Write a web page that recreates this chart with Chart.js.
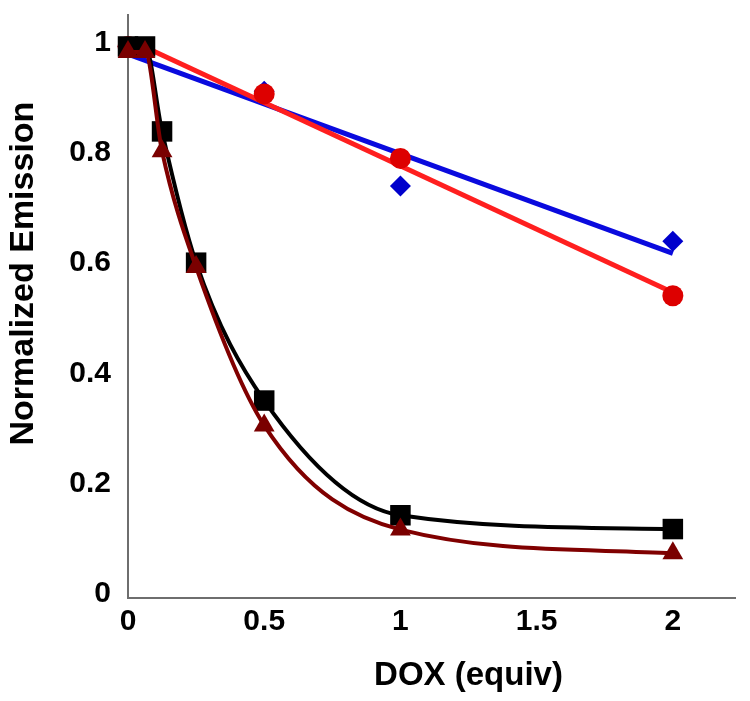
<!DOCTYPE html>
<html>
<head>
<meta charset="utf-8">
<script src="https://cdn.jsdelivr.net/npm/chart.js@4.4.1/dist/chart.umd.min.js"></script>
<style>
  html, body { margin: 0; padding: 0; background: #ffffff; }
  #wrap { width: 750px; height: 701px; }
</style>
</head>
<body>
<div id="wrap"><canvas id="c" width="750" height="701"></canvas></div>
<script>
// ---- data ----
const xDoses = [0, 0.0625, 0.125, 0.25, 0.5, 1, 2];
const blackVals = [1.0, 1.0, 0.846, 0.608, 0.358, 0.15, 0.125];
const brownVals = [0.99, 0.99, 0.81, 0.60, 0.313, 0.124, 0.081];

const xLinear = [0, 0.5, 1, 2];
const blueVals = [1.0, 0.919, 0.747, 0.647];
const redVals = [1.0, 0.914, 0.797, 0.548];

const fitX = [0, 2];
const blueFit = [0.986, 0.625];
const redFit = [1.013, 0.554];

const xTicks = [0, 0.5, 1, 1.5, 2];
const yTicks = [0, 0.2, 0.4, 0.6, 0.8, 1];

const xTitle = 'DOX (equiv)';
const yTitle = 'Normalized Emission';

function pts(xs, ys) { return xs.map((x, i) => ({ x: x, y: ys[i] })); }

const FONT = '"Liberation Sans", Arial, Helvetica, sans-serif';

const axisTitles = {
  id: 'axisTitles',
  afterDraw(chart) {
    const { ctx, chartArea } = chart;
    ctx.save();
    ctx.fillStyle = '#000000';
    ctx.font = 'bold 33px ' + FONT;
    ctx.textAlign = 'center';
    ctx.textBaseline = 'alphabetic';
    const cx = chartArea.left + (chartArea.right - chartArea.left) * 0.5605;
    ctx.fillText(xTitle, cx, chartArea.bottom + 87);
    ctx.font = 'bold 34px ' + FONT;
    const cy = chartArea.top + (chartArea.bottom - chartArea.top) * 0.444;
    ctx.translate(33, cy);
    ctx.rotate(-Math.PI / 2);
    ctx.fillText(yTitle, 0, 0);
    ctx.restore();
  }
};

new Chart(document.getElementById('c'), {
  type: 'scatter',
  data: {
    datasets: [
      { // blue linear fit
        type: 'line', data: pts(fitX, blueFit), borderColor: '#0a0ade', borderWidth: 5,
        pointRadius: 0, fill: false, order: 6, tension: 0
      },
      { // blue diamonds
        data: pts(xLinear, blueVals), pointStyle: 'rectRot', pointRadius: 10.5,
        backgroundColor: '#0000cc', borderColor: '#0000cc', borderWidth: 0, showLine: false, order: 5
      },
      { // red linear fit
        type: 'line', data: pts(fitX, redFit), borderColor: '#ff1f1f', borderWidth: 5,
        pointRadius: 0, fill: false, order: 4, tension: 0
      },
      { // red circles
        data: pts(xLinear, redVals), pointStyle: 'circle', pointRadius: 10.5,
        backgroundColor: '#dd0000', borderColor: '#dd0000', borderWidth: 0, showLine: false, order: 3
      },
      { // black squares + curve
        type: 'line', data: pts(xDoses, blackVals), borderColor: '#000000', borderWidth: 4,
        cubicInterpolationMode: 'monotone', fill: false,
        pointStyle: 'rect', pointRadius: 14.5, pointBackgroundColor: '#000000',
        pointBorderColor: '#000000', pointBorderWidth: 0, order: 2
      },
      { // dark red triangles + curve
        type: 'line', data: pts(xDoses, brownVals), borderColor: '#800000', borderWidth: 4,
        cubicInterpolationMode: 'monotone', fill: false,
        pointStyle: 'triangle', pointRadius: 12, pointBackgroundColor: '#7a0000',
        pointBorderColor: '#7a0000', pointBorderWidth: 0, order: 1
      }
    ]
  },
  options: {
    responsive: false,
    animation: false,
    devicePixelRatio: 1,
    clip: false,
    layout: { padding: { top: 8, right: 10, left: 0, bottom: 0 } },
    plugins: { legend: { display: false }, tooltip: { enabled: false }, title: { display: false } },
    scales: {
      x: {
        type: 'linear', min: 0, max: 2.23,
        grid: { display: false, drawTicks: false },
        border: { display: true, color: '#6e6e6e', width: 2 },
        afterBuildTicks: (s) => { s.ticks = xTicks.map(v => ({ value: v })); },
        afterFit: (s) => { s.height = 103; s.paddingLeft = 0; s.paddingRight = 0; },
        ticks: {
          padding: 6, color: '#000000',
          font: { family: FONT, size: 30, weight: 'bold' },
          callback: (v) => String(v)
        }
      },
      y: {
        type: 'linear', min: 0, max: 1.058,
        grid: { display: false, drawTicks: false },
        border: { display: true, color: '#6e6e6e', width: 2 },
        afterBuildTicks: (s) => { s.ticks = yTicks.map(v => ({ value: v })); },
        afterFit: (s) => { s.width = 128; s.paddingTop = 0; s.paddingBottom = 0; },
        ticks: {
          padding: 17, labelOffset: -4, color: '#000000',
          font: { family: FONT, size: 30, weight: 'bold' },
          callback: (v) => String(v)
        }
      }
    }
  },
  plugins: [axisTitles]
});
</script>
</body>
</html>
